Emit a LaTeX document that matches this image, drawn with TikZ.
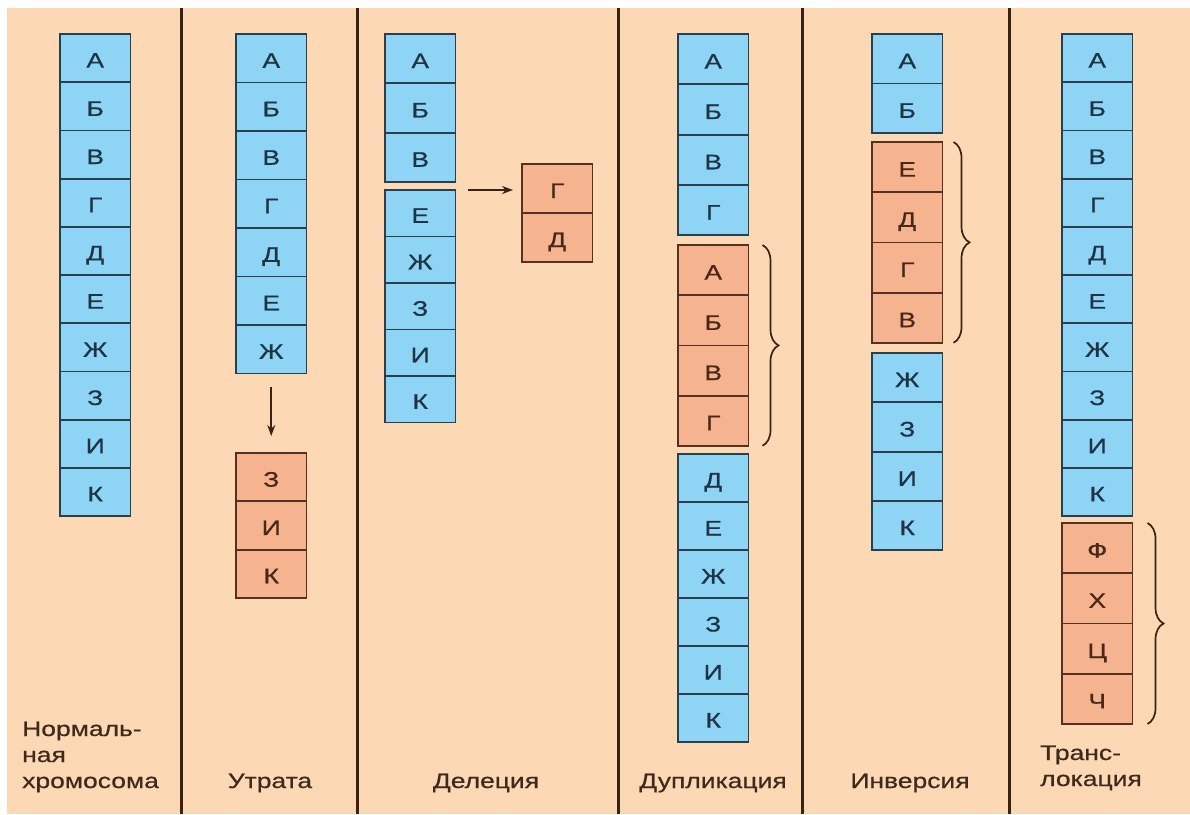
\documentclass[tikz,border=0pt]{standalone}
\usepackage{fontspec}
\setmainfont[FakeStretch=1.26,FakeBold=0.6]{Liberation Sans}
\usetikzlibrary{arrows.meta,decorations.pathreplacing}

\definecolor{bgpeach}{HTML}{FCD8B4}
\definecolor{cellblue}{HTML}{8DD4F5}
\definecolor{cellorange}{HTML}{F5B48F}
\definecolor{blueedge}{HTML}{2A3F4E}
\definecolor{orangeedge}{HTML}{553220}
\definecolor{bluetext}{HTML}{1E3445}
\definecolor{orangetext}{HTML}{4A2818}
\definecolor{ink}{HTML}{3E2A1C}
\definecolor{rulebrown}{HTML}{3A2315}

\newcommand\genefont{\fontsize{21}{24}\selectfont}
\newcommand\labelfont{\fontsize{21}{26}\selectfont}

% one column of gene blocks: prefix, left x, top y, block height, style, letters
% fills first, outlines afterwards so every shared edge keeps its full width
\newcommand\genecolumn[6]{%
  \foreach \g [count=\k] in {#6} {
    \node[#5, anchor=north west, minimum height=#4pt] (#1-\k) at (#2, {#3+(\k-1)*#4}) {\g};
  }
  \foreach \g [count=\k] in {#6} {
    \draw[#5edge] (#1-\k.north west) rectangle (#1-\k.south east);
  }}

\tikzset{
  gene/.style={minimum width=70.5pt, inner sep=0pt, outer sep=0pt,
    text height=19pt, text depth=0pt, font=\genefont},
  normal/.style={gene, fill=cellblue, text=bluetext},
  changed/.style={gene, fill=cellorange, text=orangetext},
  normaledge/.style={line width=1.8pt, draw=blueedge},
  changededge/.style={line width=1.8pt, draw=orangeedge},
  divider/.style={line width=3pt, draw=rulebrown},
  arr/.style={line width=1.8pt, draw=rulebrown, -{Stealth[length=11pt,width=8pt]}},
  bracket/.style={line width=1.7pt, draw=rulebrown, decorate,
    decoration={brace, amplitude=16pt}},
  caption/.style={inner sep=0pt, text=ink, font=\labelfont, align=left},
}

\begin{document}
\begin{tikzpicture}[x=1pt, y=-1pt]
  % paper and background
  \fill[white] (0,0) rectangle (1190,814);
  \fill[bgpeach] (7,8) rectangle (1190,814);
  \useasboundingbox (0,0) rectangle (1190,814);

  % column separators
  \foreach \xx in {181,357,618,802,1009}
    \draw[divider] (\xx,8) -- (\xx,814);

  % normal chromosome
  \genecolumn{n}{60}{34}{48.2}{normal}{А,Б,В,Г,Д,Е,Ж,З,И,К}

  % loss
  \genecolumn{u}{236}{34}{48.5}{normal}{А,Б,В,Г,Д,Е,Ж}
  \genecolumn{uo}{236}{453}{48.3}{changed}{З,И,К}
  \draw[arr, shorten <=13pt, shorten >=17pt] (u-7.south) -- (uo-1.north);

  % deletion
  \genecolumn{d}{385}{34}{49.3}{normal}{А,Б,В}
  \genecolumn{dl}{385}{190}{46.5}{normal}{Е,Ж,З,И,К}
  \genecolumn{do}{522}{164}{49}{changed}{Г,Д}
  \draw[arr] ([xshift=12pt]dl-1.north east) -- ([xshift=-9pt]do-1.west |- dl-1.north);

  % duplication
  \genecolumn{p}{678}{34}{50.3}{normal}{А,Б,В,Г}
  \genecolumn{po}{678}{245}{50.2}{changed}{А,Б,В,Г}
  \genecolumn{pl}{678}{454}{48}{normal}{Д,Е,Ж,З,И,К}
  \draw[bracket] ([xshift=14pt]po-1.north east) -- ([xshift=14pt]po-4.south east);

  % inversion
  \genecolumn{i}{872}{34}{49.5}{normal}{А,Б}
  \genecolumn{io}{872}{142}{50.2}{changed}{Е,Д,Г,В}
  \genecolumn{il}{872}{353}{49.3}{normal}{Ж,З,И,К}
  \draw[bracket] ([xshift=11pt]io-1.north east) -- ([xshift=11pt]io-4.south east);

  % translocation
  \genecolumn{t}{1062}{34}{48.2}{normal}{А,Б,В,Г,Д,Е,Ж,З,И,К}
  \genecolumn{to}{1062}{523}{50.25}{changed}{Ф,Х,Ц,Ч}
  \draw[bracket] ([xshift=15pt]to-1.north east) -- ([xshift=15pt]to-4.south east);

  % captions (base anchor of a multi-line caption sits on its last line)
  \node[caption, anchor=base west] (cap1) at (22,788) {Нормаль-\\ная\\хромосома};
  \node[caption, anchor=base] (cap2) at (270,788) {Утрата};
  \node[caption, anchor=base] (cap3) at (486,788) {Делеция};
  \node[caption, anchor=base] (cap4) at (713,788) {Дупликация};
  \node[caption, anchor=base] (cap5) at (910,788) {Инверсия};
  \node[caption, anchor=base west] (cap6) at (1040,786) {Транс-\\локация};
\end{tikzpicture}
\end{document}
